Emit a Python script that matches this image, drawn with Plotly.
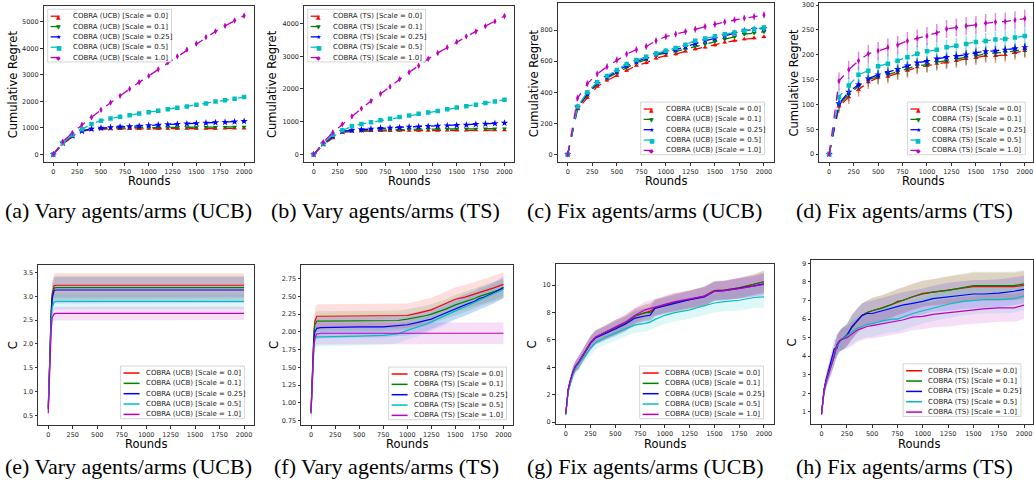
import plotly.graph_objects as go
import numpy as np

W, H = 1034, 494

# ---------------- data ----------------
ROUNDS = [0, 100, 200, 300, 400, 500, 600, 700, 800, 900, 1000,
          1100, 1200, 1300, 1400, 1500, 1600, 1700, 1800, 1900, 2000]
X_TICKS = [0, 250, 500, 750, 1000, 1250, 1500, 1750, 2000]
SCALES = ["0.0", "0.1", "0.25", "0.5", "1.0"]
COLORS = ["#ff0000", "#008000", "#0000ff", "#00bfbf", "#bf00bf"]
MARKERS = ["triangle-up", "triangle-down", "star", "square", "diamond-tall"]
GLYPHS = ["\u25B2", "\u25BC", "\u2605", "\u25A0", "\u25C6"]

# (a) Vary agents/arms (UCB) - cumulative regret
A_S00 = [0, 390, 660, 870, 935, 950, 955, 960, 962, 965, 967, 968, 970, 970, 972, 973, 975, 975, 977, 978, 980]
A_S01 = [0, 410, 690, 890, 965, 985, 995, 1000, 1005, 1008, 1010, 1012, 1015, 1018, 1020, 1022, 1025, 1028, 1030, 1035, 1040]
A_S025 = [0, 430, 700, 880, 960, 1000, 1020, 1040, 1050, 1070, 1090, 1110, 1125, 1140, 1155, 1170, 1185, 1200, 1215, 1230, 1250]
A_S05 = [0, 440, 730, 950, 1150, 1270, 1350, 1420, 1480, 1540, 1590, 1650, 1700, 1760, 1810, 1870, 1920, 1990, 2040, 2100, 2160]
A_S10 = [0, 480, 810, 1120, 1400, 1680, 1950, 2210, 2470, 2720, 2960, 3210, 3470, 3700, 3950, 4180, 4420, 4640, 4850, 5050, 5230]
A_ERR = [25, 30, 35, 40, 80]

# (b) Vary agents/arms (TS)
B_S00 = [0, 290, 500, 670, 700, 710, 715, 720, 720, 725, 725, 730, 730, 730, 735, 735, 735, 740, 740, 740, 740]
B_S01 = [0, 310, 530, 690, 720, 730, 740, 750, 755, 760, 765, 770, 770, 775, 775, 780, 780, 780, 785, 785, 790]
B_S025 = [0, 320, 560, 700, 740, 760, 780, 800, 810, 820, 840, 850, 860, 870, 880, 890, 900, 920, 930, 945, 960]
B_S05 = [0, 330, 600, 740, 860, 930, 980, 1040, 1090, 1140, 1190, 1240, 1280, 1330, 1380, 1430, 1470, 1520, 1570, 1620, 1670]
B_S10 = [0, 370, 670, 920, 1160, 1400, 1630, 1850, 2070, 2300, 2510, 2710, 2920, 3100, 3270, 3440, 3610, 3760, 3920, 4070, 4230]
B_ERR = [20, 25, 30, 35, 70]

# (c) Fix agents/arms (UCB)
C_S00 = [0, 292, 365, 437, 476, 508, 540, 572, 589, 619, 636, 646, 663, 678, 689, 704, 721, 732, 742, 749, 757]
C_S01 = [0, 301, 384, 454, 493, 525, 561, 589, 610, 640, 653, 663, 678, 695, 710, 727, 742, 757, 774, 781, 789]
C_S025 = [0, 305, 390, 459, 497, 533, 572, 597, 619, 646, 661, 674, 693, 715, 732, 747, 764, 781, 796, 806, 811]
C_S05 = [0, 309, 401, 465, 505, 544, 582, 608, 629, 650, 668, 685, 706, 732, 747, 761, 774, 785, 796, 806, 817]
C_S10 = [0, 363, 456, 518, 565, 608, 646, 674, 695, 732, 759, 774, 791, 806, 823, 838, 853, 866, 877, 887, 898]
C_ERR = [10, 10, 10, 12, 22]

# (d) Fix agents/arms (TS)
D_S00 = [0, 96, 115, 130, 145, 154, 156, 163, 168, 175, 178, 182, 185, 188, 192, 194, 198, 198, 200, 204, 208]
D_S01 = [0, 100, 120, 137, 150, 156, 160, 166, 172, 178, 180, 185, 188, 192, 195, 198, 202, 204, 205, 208, 210]
D_S025 = [0, 102, 125, 140, 152, 160, 165, 171, 178, 184, 187, 192, 195, 197, 200, 204, 207, 208, 210, 213, 215]
D_S05 = [0, 115, 138, 160, 168, 177, 182, 188, 195, 202, 207, 210, 215, 218, 222, 226, 228, 231, 232, 235, 238]
D_S10 = [0, 147, 170, 188, 202, 208, 215, 220, 228, 233, 238, 244, 252, 255, 258, 260, 264, 266, 267, 270, 273]
D_ERR = [14, 14, 10, 16, 18]

# (e) Vary agents/arms (UCB) - C
E_X = [0, 10, 20, 30, 40, 50, 60, 80, 100, 500, 1000, 1500, 2000]
E_S00 = [0.68, 1.45, 2.15, 2.7, 3.05, 3.18, 3.22, 3.23, 3.23, 3.23, 3.23, 3.23, 3.23]
E_S01 = [0.66, 1.4, 2.1, 2.65, 3.0, 3.13, 3.17, 3.18, 3.18, 3.18, 3.18, 3.18, 3.18]
E_S025 = [0.62, 1.35, 2.05, 2.6, 2.95, 3.08, 3.12, 3.13, 3.13, 3.13, 3.13, 3.13, 3.13]
E_S05 = [0.7, 1.4, 2.0, 2.45, 2.75, 2.85, 2.88, 2.89, 2.89, 2.89, 2.89, 2.89, 2.89]
E_S10 = [0.55, 1.3, 1.9, 2.3, 2.55, 2.61, 2.63, 2.64, 2.64, 2.64, 2.64, 2.64, 2.64]
E_STD = [0.25, 0.25, 0.27, 0.16, 0.14]

# (f) Vary agents/arms (TS) - C
F_X = [0, 10, 20, 30, 40, 50, 60, 100, 300, 500, 750, 900, 1000, 1100, 1200, 1250, 1300,
       1400, 1500, 1600, 1700, 1750, 1800, 1900, 2000]
F_S00 = [0.9, 1.3, 1.7, 2.0, 2.15, 2.2, 2.22, 2.22, 2.22, 2.22, 2.22, 2.22, 2.23, 2.26, 2.29,
         2.31, 2.34, 2.40, 2.46, 2.49, 2.53, 2.55, 2.57, 2.62, 2.67]
F_S01 = [0.88, 1.3, 1.65, 1.95, 2.1, 2.14, 2.15, 2.15, 2.15, 2.15, 2.15, 2.16, 2.18, 2.2, 2.23,
         2.25, 2.27, 2.32, 2.38, 2.42, 2.47, 2.50, 2.52, 2.57, 2.61]
F_S025 = [0.87, 1.25, 1.6, 1.9, 2.0, 2.04, 2.05, 2.06, 2.07, 2.07, 2.07, 2.09, 2.10, 2.13, 2.16,
          2.18, 2.21, 2.27, 2.33, 2.38, 2.43, 2.47, 2.49, 2.55, 2.63]
F_S05 = [0.85, 1.25, 1.55, 1.8, 1.9, 1.92, 1.93, 1.93, 1.94, 1.94, 1.95, 1.97, 2.02, 2.06, 2.11,
         2.14, 2.17, 2.23, 2.30, 2.35, 2.41, 2.45, 2.47, 2.53, 2.60]
F_S10 = [0.85, 1.25, 1.55, 1.8, 1.92, 1.96, 1.97, 1.98, 1.98, 1.98, 1.98, 1.98, 1.98, 1.98, 1.98,
         1.98, 1.98, 1.98, 1.98, 1.98, 1.98, 1.98, 1.98, 1.98, 1.98]
F_STD = [0.17, 0.14, 0.15, 0.13, 0.15]

# (g) Fix agents/arms (UCB) - C
G_X = [0, 10, 25, 50, 75, 100, 125, 150, 175, 200, 250, 300, 350, 400, 500, 600, 700, 800,
       850, 900, 1000, 1100, 1250, 1400, 1500, 1600, 1750, 1900, 2000]
G_S00 = [0.6, 1.5, 2.4, 3.1, 3.7, 4.1, 4.3, 4.6, 4.9, 5.2, 5.8, 6.2, 6.35, 6.55, 6.9, 7.25, 7.75,
         8.0, 8.1, 8.35, 8.55, 8.75, 8.95, 9.2, 9.6, 9.65, 9.8, 10.05, 10.25]
G_S01 = [0.6, 1.5, 2.4, 3.1, 3.7, 4.1, 4.3, 4.6, 4.9, 5.2, 5.8, 6.2, 6.35, 6.55, 6.9, 7.2, 7.75,
         8.0, 8.0, 8.35, 8.55, 8.75, 8.95, 9.2, 9.6, 9.65, 9.8, 10.05, 10.25]
G_S025 = [0.6, 1.5, 2.4, 3.1, 3.7, 4.1, 4.3, 4.6, 4.9, 5.2, 5.75, 6.15, 6.3, 6.5, 6.8, 7.15, 7.6,
          7.75, 7.8, 8.3, 8.5, 8.7, 8.95, 9.15, 9.55, 9.6, 9.75, 9.95, 10.1]
G_S05 = [0.5, 1.3, 2.2, 2.9, 3.5, 3.9, 4.2, 4.4, 4.7, 4.9, 5.4, 5.8, 6.0, 6.2, 6.5, 6.8, 7.1,
         7.2, 7.3, 7.5, 7.8, 8.0, 8.2, 8.5, 8.7, 8.8, 8.9, 9.1, 9.15]
G_S10 = [0.6, 1.5, 2.4, 3.1, 3.7, 4.1, 4.3, 4.6, 4.9, 5.2, 5.8, 6.2, 6.4, 6.6, 6.95, 7.3, 7.8,
         8.2, 8.3, 8.4, 8.6, 8.8, 9.0, 9.2, 9.55, 9.6, 9.75, 9.9, 10.05]
G_STD = [0.15, 0.25, 0.3, 0.35, 0.4, 0.4, 0.45, 0.45, 0.45, 0.45, 0.5, 0.5, 0.5, 0.5, 0.55,
         0.55, 0.55, 0.6, 0.6, 0.6, 0.6, 0.65, 0.65, 0.7, 0.7, 0.7, 0.75, 0.75, 0.8]

# (h) Fix agents/arms (TS) - C
H_X = [0, 10, 25, 50, 75, 100, 125, 150, 175, 200, 250, 300, 350, 400, 450, 500, 600, 700,
       750, 800, 900, 1000, 1100, 1250, 1400, 1500, 1600, 1750, 1900, 2000]
H_S00 = [0.9, 1.5, 2.2, 2.8, 3.2, 3.6, 4.0, 4.6, 4.8, 4.9, 5.15, 5.55, 5.9, 6.2, 6.35, 6.45,
         6.6, 6.8, 6.95, 7.0, 7.2, 7.38, 7.45, 7.55, 7.65, 7.75, 7.75, 7.75, 7.75, 7.82]
H_S01 = [0.9, 1.5, 2.2, 2.8, 3.2, 3.6, 4.0, 4.6, 4.8, 4.9, 5.15, 5.55, 5.9, 6.2, 6.35, 6.45,
         6.6, 6.8, 6.9, 7.0, 7.2, 7.35, 7.45, 7.55, 7.7, 7.8, 7.8, 7.8, 7.8, 7.9]
H_S025 = [0.9, 1.5, 2.2, 2.8, 3.3, 3.8, 4.4, 4.4, 4.8, 4.9, 5.1, 5.6, 5.9, 6.2, 6.3, 6.3,
          6.45, 6.6, 6.65, 6.75, 6.85, 6.95, 7.1, 7.2, 7.3, 7.35, 7.35, 7.4, 7.5, 7.6]
H_S05 = [0.85, 1.4, 2.1, 2.7, 3.1, 3.5, 4.0, 4.5, 4.7, 4.9, 5.1, 5.3, 5.5, 5.6, 5.7, 5.75,
         5.9, 6.0, 6.0, 6.1, 6.3, 6.45, 6.6, 6.8, 6.95, 7.0, 7.05, 7.05, 7.1, 7.25]
H_S10 = [0.85, 1.4, 2.1, 2.7, 3.1, 3.5, 4.0, 4.6, 4.8, 4.9, 5.0, 5.2, 5.4, 5.5, 5.6, 5.65,
         5.75, 5.85, 5.9, 5.95, 6.1, 6.15, 6.25, 6.35, 6.45, 6.5, 6.55, 6.6, 6.6, 6.75]
H_STD = [0.1, 0.2, 0.3, 0.35, 0.4, 0.45, 0.5, 0.55, 0.55, 0.6, 0.6, 0.65, 0.65, 0.65, 0.65,
         0.7, 0.7, 0.7, 0.7, 0.7, 0.7, 0.7, 0.7, 0.75, 0.75, 0.75, 0.75, 0.75, 0.75, 0.75]

CAPTIONS = ["(a) Vary agents/arms (UCB)", "(b) Vary agents/arms (TS)",
            "(c) Fix agents/arms (UCB)", "(d) Fix agents/arms (TS)",
            "(e) Vary agents/arms (UCB)", "(f) Vary agents/arms (TS)",
            "(g) Fix agents/arms (UCB)", "(h) Fix agents/arms (TS)"]

# ---------------- layout (pixels) ----------------
PANELS = [
    dict(box=(43.8, 5.3, 253.9, 162.3), xr=[-100, 2100], yr=[-300, 5587], algo="UCB",
         series=[A_S00, A_S01, A_S025, A_S05, A_S10], err=A_ERR, yt=[0, 1000, 2000, 3000, 4000, 5000],
         fmt="", leg=(47.7, 8.3), ytx=13, cap=(129, 211)),
    dict(box=(304.5, 5.3, 514.5, 162.3), xr=[-100, 2100], yr=[-243, 4529], algo="TS",
         series=[B_S00, B_S01, B_S025, B_S05, B_S10], err=B_ERR, yt=[0, 1000, 2000, 3000, 4000],
         fmt="", leg=(308, 8.3), ytx=273, cap=(386, 211)),
    dict(box=(558.5, 2.0, 774.5, 162.3), xr=[-100, 2100], yr=[-51, 975], algo="UCB",
         series=[C_S00, C_S01, C_S025, C_S05, C_S10], err=C_ERR, yt=[0, 200, 400, 600, 800],
         fmt="", leg=(641.3, 101.7), ytx=534, cap=(645, 211)),
    dict(box=(820.2, 1.7, 1034, 162.0), xr=[-100, 2084], yr=[-16, 305], algo="TS",
         series=[D_S00, D_S01, D_S025, D_S05, D_S10], err=D_ERR, yt=[0, 50, 100, 150, 200, 250, 300],
         fmt="", leg=(908.3, 101.7), ytx=795, cap=(905, 211)),
    dict(box=(38.5, 266.0, 254.1, 426.7), xr=[-100, 2100], yr=[0.30, 3.646], algo="UCB",
         x=E_X, series=[E_S00, E_S01, E_S025, E_S05, E_S10], std=E_STD,
         yt=[0.5, 1.0, 1.5, 2.0, 2.5, 3.0, 3.5], fmt=".1f", leg=(120.7, 367.3), ytx=13, cap=(129, 468)),
    dict(box=(301.7, 266.0, 513.6, 426.7), xr=[-100, 2100], yr=[0.685, 2.937], algo="TS",
         x=F_X, series=[F_S00, F_S01, F_S025, F_S05, F_S10], std=F_STD,
         yt=[0.75, 1.0, 1.25, 1.5, 1.75, 2.0, 2.25, 2.5, 2.75], fmt=".2f", leg=(389, 368.3), ytx=275,
         cap=(387, 468)),
    dict(box=(556.4, 264.3, 774.6, 426.0), xr=[-100, 2100], yr=[-0.17, 11.57], algo="UCB",
         x=G_X, series=[G_S00, G_S01, G_S025, G_S05, G_S10], std=G_STD,
         yt=[0, 2, 4, 6, 8, 10], fmt="", leg=(640.3, 367.3), ytx=533, cap=(646, 468)),
    dict(box=(812.2, 261.0, 1034, 425.7), xr=[-100, 2088], yr=[0.34, 9.16], algo="TS",
         x=H_X, series=[H_S00, H_S01, H_S025, H_S05, H_S10], std=H_STD,
         yt=[1, 2, 3, 4, 5, 6, 7, 8, 9], fmt="", leg=(904, 365.0), ytx=793, cap=(905, 468)),
]


def px(x):
    return x / W


def py(y):
    return 1 - y / H


def rgba(hexc, a):
    h = hexc.lstrip("#")
    return "rgba(%d,%d,%d,%s)" % (int(h[0:2], 16), int(h[2:4], 16), int(h[4:6], 16), a)


fig = go.Figure()
layout = dict(width=W, height=H, autosize=False, margin=dict(l=0, r=0, t=0, b=0),
              paper_bgcolor="white", plot_bgcolor="white", showlegend=False)
shapes = []
annotations = []
TICK_FONT = dict(family="DejaVu Sans", size=6.5, color="#262626")
TITLE_FONT = dict(family="DejaVu Sans", size=11.5, color="black")

for i, p in enumerate(PANELS):
    k = "" if i == 0 else str(i + 1)
    xa, ya = "x" + k, "y" + k
    l, t, r, b = p["box"]
    axis_common = dict(showgrid=False, zeroline=False, showline=True, mirror=True,
                       linecolor="#333333", linewidth=0.8, ticks="outside", ticklen=3,
                       tickwidth=0.8, tickcolor="#333333", tickfont=TICK_FONT)
    layout["xaxis" + k] = dict(domain=[px(l), px(r)], range=p["xr"], anchor=ya,
                               tickvals=X_TICKS, **axis_common)
    layout["yaxis" + k] = dict(domain=[py(b), py(t)], range=p["yr"], anchor=xa,
                               tickvals=p["yt"], tickformat=p["fmt"], **axis_common)

    top_row = i < 4
    if top_row:
        for s, vals in enumerate(p["series"]):
            errs = [0 if v == 0 else p["err"][s] for v in vals]
            fig.add_trace(go.Scatter(
                x=ROUNDS, y=vals, xaxis=xa, yaxis=ya, mode="lines+markers",
                line=dict(color=COLORS[s], width=1.3, dash="dash"),
                marker=dict(symbol=MARKERS[s], size=4.5 if s != 2 else 5.5, color=COLORS[s],
                            line=dict(width=0)),
                error_y=dict(type="data", array=errs, color=rgba(COLORS[s], 0.45),
                             thickness=1.5, width=0)))
    else:
        xs = p["x"]
        for s, vals in enumerate(p["series"]):
            m = np.array(vals, dtype=float)
            sd_src = p["std"]
            sd = float(sd_src[s]) if len(sd_src) == 5 else np.array(sd_src, dtype=float)
            up = m + sd
            lo = m - sd
            fig.add_trace(go.Scatter(
                x=list(xs) + list(xs)[::-1], y=list(up) + list(lo)[::-1], xaxis=xa, yaxis=ya,
                mode="lines", line=dict(width=0), fill="toself",
                fillcolor=rgba(COLORS[s], 0.13), hoverinfo="skip"))
        for s, vals in enumerate(p["series"]):
            fig.add_trace(go.Scatter(
                x=xs, y=vals, xaxis=xa, yaxis=ya, mode="lines",
                line=dict(color=COLORS[s], width=1.2)))

    # axis titles
    ycen = (t + b) / 2
    annotations.append(dict(text="Cumulative Regret" if top_row else "C", x=px(p["ytx"]), y=py(ycen),
                            xref="paper", yref="paper", showarrow=False, textangle=-90,
                            xanchor="center", yanchor="middle", font=TITLE_FONT))
    annotations.append(dict(text="Rounds", x=px((l + r) / 2 if r < 1030 else (l + 1028) / 2),
                            y=py(181.5 if top_row else 446),
                            xref="paper", yref="paper", showarrow=False,
                            xanchor="center", yanchor="middle", font=TITLE_FONT))

    # legend (drawn by hand to match matplotlib's compact spacing)
    lx, ly = p["leg"]
    lw = 124 if p["algo"] == "UCB" else 118
    shapes.append(dict(type="rect", xref="paper", yref="paper", layer="above",
                       x0=px(lx), x1=px(lx + lw), y0=py(ly), y1=py(ly + 53),
                       line=dict(color="#cccccc", width=0.8), fillcolor="rgba(255,255,255,0.8)"))
    for s in range(5):
        ry = ly + 7 + s * 10.4
        shapes.append(dict(type="line", xref="paper", yref="paper", layer="above",
                           x0=px(lx + 3), x1=px(lx + 19), y0=py(ry), y1=py(ry),
                           line=dict(color=COLORS[s], width=1.3 if top_row else 1.5,
                                     dash="dash" if top_row else "solid")))
        if top_row:
            annotations.append(dict(text=GLYPHS[s], x=px(lx + 11), y=py(ry), xref="paper",
                                    yref="paper", showarrow=False, xanchor="center",
                                    yanchor="middle",
                                    font=dict(family="DejaVu Sans", size=6, color=COLORS[s])))
        annotations.append(dict(text="COBRA (%s) [Scale = %s]" % (p["algo"], SCALES[s]),
                                x=px(lx + 23), y=py(ry), xref="paper", yref="paper",
                                showarrow=False, xanchor="left", yanchor="middle",
                                font=dict(family="DejaVu Sans", size=7, color="#222222")))

# captions
for i, p in enumerate(PANELS):
    cx, cy = p["cap"]
    annotations.append(dict(text=CAPTIONS[i], x=px(cx), y=py(cy), xref="paper", yref="paper",
                            showarrow=False, xanchor="center", yanchor="middle",
                            font=dict(family="Liberation Serif", size=22, color="black")))

layout["shapes"] = shapes
layout["annotations"] = annotations
fig.update_layout(**layout)
fig.write_html("out.html", config={"displayModeBar": False})

# remove the browser's default page margin so the figure sits at the top-left corner
with open("out.html", "r", encoding="utf-8") as fh:
    html = fh.read()
html = html.replace("<head>", "<head><style>html,body{margin:0;padding:0;overflow:hidden;}</style>", 1)
with open("out.html", "w", encoding="utf-8") as fh:
    fh.write(html)
